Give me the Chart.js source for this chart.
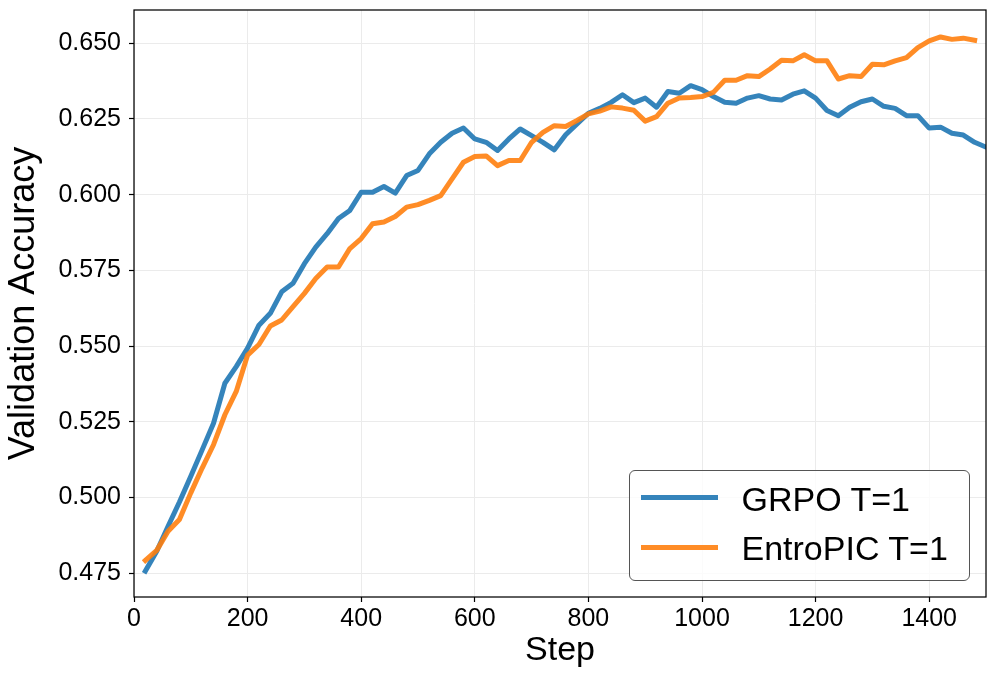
<!DOCTYPE html>
<html>
<head>
<meta charset="utf-8">
<script src="https://cdn.jsdelivr.net/npm/chart.js@4.4.1/dist/chart.umd.min.js"></script>
<style>
  html, body { margin: 0; padding: 0; background: #fff; }
  #wrap { position: relative; width: 997px; height: 681px; }
  #c { display: block; }
  #legend {
    position: absolute; left: 629px; top: 470px; width: 341px; height: 111px;
    box-sizing: border-box; border: 1px solid #555; border-radius: 6px;
    background: rgba(255,255,255,0.8);
    font-family: "Liberation Sans", Arial, sans-serif; font-size: 34px; color: #000;
  }
  #legend .ln { position: absolute; left: 11px; width: 77px; height: 5px; }
  #legend .tx { position: absolute; left: 111.5px; line-height: 34px; white-space: nowrap; }
</style>
</head>
<body>
<div id="wrap">
  <canvas id="c" width="997" height="681"></canvas>
  <div id="legend"></div>
</div>
<script>
// ---- data ----
const steps = [20, 40, 60, 80, 100, 120, 140, 160, 180, 200, 220, 240, 260, 280, 300, 320, 340, 360, 380, 400,
  420, 440, 460, 480, 500, 520, 540, 560, 580, 600, 620, 640, 660, 680, 700, 720, 740, 760, 780, 800,
  820, 840, 860, 880, 900, 920, 940, 960, 980, 1000, 1020, 1040, 1060, 1080, 1100, 1120, 1140, 1160, 1180, 1200,
  1220, 1240, 1260, 1280, 1300, 1320, 1340, 1360, 1380, 1400, 1420, 1440, 1460, 1480, 1500];

const grpoAcc = [0.4757, 0.4822, 0.4905, 0.4985, 0.5070, 0.5157, 0.5245, 0.5377, 0.5432, 0.5493,
  0.5569, 0.5608, 0.5679, 0.5707, 0.5772, 0.5827, 0.5871, 0.5921, 0.5948, 0.6008,
  0.6008, 0.6027, 0.6005, 0.6063, 0.6080, 0.6135, 0.6173, 0.6203, 0.6220, 0.6184,
  0.6173, 0.6146, 0.6184, 0.6217, 0.6195, 0.6173, 0.6148, 0.6198, 0.6234, 0.6269,
  0.6285, 0.6305, 0.6330, 0.6304, 0.6319, 0.6289, 0.6341, 0.6335, 0.6360, 0.6347,
  0.6324, 0.6305, 0.6302, 0.6319, 0.6327, 0.6316, 0.6313, 0.6332, 0.6343, 0.6319,
  0.6278, 0.6261, 0.6289, 0.6307, 0.6316, 0.6292, 0.6285, 0.6261, 0.6261, 0.6220,
  0.6223, 0.6203, 0.6197, 0.6173, 0.6157];

const entropicAcc = [0.4792, 0.4825, 0.4888, 0.4927, 0.5015, 0.5097, 0.5174, 0.5273, 0.5350, 0.5470,
  0.5505, 0.5566, 0.5586, 0.5630, 0.5674, 0.5723, 0.5761, 0.5761, 0.5822, 0.5855,
  0.5904, 0.5910, 0.5928, 0.5959, 0.5967, 0.5981, 0.5997, 0.6052, 0.6107, 0.6126,
  0.6128, 0.6096, 0.6113, 0.6113, 0.6173, 0.6206, 0.6228, 0.6225, 0.6245, 0.6267,
  0.6276, 0.6290, 0.6286, 0.6279, 0.6243, 0.6258, 0.6302, 0.6319, 0.6321, 0.6324,
  0.6338, 0.6378, 0.6378, 0.6393, 0.6390, 0.6415, 0.6444, 0.6442, 0.6462, 0.6442,
  0.6442, 0.6382, 0.6393, 0.6390, 0.6431, 0.6429, 0.6442, 0.6453, 0.6486, 0.6508,
  0.6521, 0.6513, 0.6517, 0.6510];

const seriesNames = ['GRPO T=1', 'EntroPIC T=1'];
const xTickValues = [0, 200, 400, 600, 800, 1000, 1200, 1400];
const yTickValues = [0.475, 0.500, 0.525, 0.550, 0.575, 0.600, 0.625, 0.650];
const xTitle = 'Step';
const yTitle = 'Validation Accuracy';

// ---- chart ----
const FONT = '"Liberation Sans", Arial, Helvetica, sans-serif';
const colors = ['rgba(31,119,180,0.9)', 'rgba(255,127,14,0.9)'];

const toPts = (ys) => ys.map((y, i) => ({ x: steps[i], y: y }));

const framePlugin = {
  id: 'frame',
  afterDraw(chart) {
    const { ctx, chartArea: a } = chart;
    ctx.save();
    ctx.strokeStyle = '#000';
    ctx.lineWidth = 1.25;
    ctx.strokeRect(a.left, a.top, a.right - a.left, a.bottom - a.top);
    ctx.restore();
  }
};

const chart = new Chart(document.getElementById('c'), {
  type: 'line',
  data: {
    datasets: [
      { label: seriesNames[0], data: toPts(grpoAcc), borderColor: colors[0], backgroundColor: colors[0], order: 1 },
      { label: seriesNames[1], data: toPts(entropicAcc), borderColor: colors[1], backgroundColor: colors[1], order: 0 }
    ]
  },
  options: {
    responsive: false,
    animation: false,
    devicePixelRatio: 1,
    layout: { padding: { top: 10, right: 11, left: 0, bottom: 0 } },
    plugins: { legend: { display: false }, tooltip: { enabled: false } },
    elements: {
      point: { radius: 0, hoverRadius: 0 },
      line: { tension: 0, borderWidth: 5, borderJoinStyle: 'round', borderCapStyle: 'square', fill: false }
    },
    datasets: { line: { clip: 0 } },
    scales: {
      x: {
        type: 'linear', min: 0, max: 1500,
        afterBuildTicks: (s) => { s.ticks = xTickValues.map(v => ({ value: v })); },
        afterFit: (s) => { s.height = 84; s.paddingLeft = 0; s.paddingRight = 0; },
        grid: { color: '#ebebeb', lineWidth: 1, tickColor: '#000', tickLength: 5, tickWidth: 1.2 },
        border: { display: false },
        ticks: { font: { family: FONT, size: 25 }, color: '#000', padding: 2, maxRotation: 0, autoSkip: false,
                 callback: (v) => String(v) },
        title: { display: true, text: xTitle, color: '#000', font: { family: FONT, size: 34, lineHeight: 1 },
                 padding: { top: 0, bottom: 13 } }
      },
      y: {
        type: 'linear', min: 0.4671, max: 0.6610,
        afterBuildTicks: (s) => { s.ticks = yTickValues.map(v => ({ value: v })); },
        afterFit: (s) => { s.width = 134; s.paddingTop = 0; s.paddingBottom = 0; },
        grid: { color: '#ebebeb', lineWidth: 1, tickColor: '#000', tickLength: 5, tickWidth: 1.2 },
        border: { display: false },
        ticks: { font: { family: FONT, size: 25 }, color: '#000', padding: 8, autoSkip: false,
                 callback: (v) => Number(v).toFixed(3) },
        title: { display: true, text: yTitle, color: '#000', font: { family: FONT, size: 36, lineHeight: 1 },
                 padding: { top: 6, bottom: 0 } }
      }
    }
  },
  plugins: [framePlugin]
});

// ---- legend (built from the chart's datasets) ----
const legend = document.getElementById('legend');
const rowLineTop = [24, 73.5];
const rowTextTop = [11, 59.5];
chart.data.datasets.forEach((ds, i) => {
  const ln = document.createElement('div');
  ln.className = 'ln';
  ln.style.top = rowLineTop[i] + 'px';
  ln.style.background = ds.borderColor;
  legend.appendChild(ln);
  const tx = document.createElement('div');
  tx.className = 'tx';
  tx.style.top = rowTextTop[i] + 'px';
  tx.textContent = ds.label;
  legend.appendChild(tx);
});
</script>
</body>
</html>
